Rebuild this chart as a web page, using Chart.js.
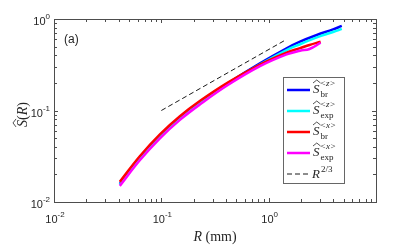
<!DOCTYPE html>
<html>
<head>
<meta charset="utf-8">
<script src="https://cdn.jsdelivr.net/npm/chart.js@4.4.1/dist/chart.umd.min.js"></script>
<style>
  html, body { margin: 0; padding: 0; background: #fff; }
  #wrap { width: 416px; height: 246px; }
</style>
</head>
<body>
<div id="wrap"><canvas id="chart" width="416" height="246"></canvas></div>
<script>
'use strict';

// ── Data ─────────────────────────────────────────────────
// separation R (mm) for the <z> pair
const rZ     = [0.041, 0.063, 0.097, 0.149, 0.23, 0.42, 0.83, 1.47, 1.96, 2.81, 3.98, 4.8];
const sBrZ   = [0.0157, 0.0300, 0.0521, 0.0829, 0.1236, 0.200, 0.328, 0.479, 0.565, 0.668, 0.770, 0.840];
const sExpZ  = [0.0154, 0.0294, 0.0512, 0.0815, 0.1215, 0.197, 0.318, 0.458, 0.530, 0.630, 0.720, 0.780];
// separation R (mm) for the <x> pair
const rX     = [0.041, 0.063, 0.097, 0.149, 0.23, 0.42, 0.83, 1.47, 1.96, 2.4, 3.05];
const sBrX   = [0.0166, 0.0316, 0.0548, 0.0865, 0.1275, 0.203, 0.318, 0.430, 0.480, 0.520, 0.565];
const sExpX  = [0.0150, 0.0286, 0.0497, 0.0790, 0.1170, 0.191, 0.305, 0.410, 0.450, 0.470, 0.550];
// R^(2/3) reference line
const rRef   = [0.1, 1.4];
const sRef   = [0.1, 0.58];

// axis limits and labelled decades
const xLim = [0.01, 10];
const yLim = [0.01, 1];
const xTickExp = ['-2', '-1', '0'];
const yTickExp = ['-2', '-1', '0'];

const pts = (xs, ys) => xs.map((x, i) => ({ x, y: ys[i] }));

// ── Helpers for the MATLAB-like text ─────────────────────
const SERIF = '"Liberation Serif", "DejaVu Serif", serif';
const SANS  = '"Liberation Sans", Arial, sans-serif';
const INK   = '#262626';

function drawPow(ctx, exp, x, yBase, align) {
    ctx.font = '11px ' + SANS;
    const w10 = ctx.measureText('10').width;
    ctx.font = '8px ' + SANS;
    const wE = ctx.measureText(exp).width;
    const total = w10 + wE;
    let x0 = align === 'center' ? x - total / 2 : x - total;
    ctx.textAlign = 'left';
    ctx.textBaseline = 'alphabetic';
    ctx.font = '11px ' + SANS;
    ctx.fillText('10', x0, yBase);
    ctx.font = '8px ' + SANS;
    ctx.fillText(exp, x0 + w10, yBase - 6);
}

function drawHat(ctx, x0, x1, yb) {
    ctx.beginPath();
    ctx.moveTo(x0, yb);
    ctx.lineTo((x0 + x1) / 2, yb - 3);
    ctx.lineTo(x1, yb);
    ctx.lineWidth = 0.8;
    ctx.stroke();
}

// Ŝ with subscript / superscript
function drawSHat(ctx, x, yb, sub, supVar) {
    ctx.textAlign = 'left';
    ctx.textBaseline = 'alphabetic';
    ctx.font = 'italic 13px ' + SERIF;
    const wS = ctx.measureText('S').width;
    ctx.fillText('S', x, yb);
    drawHat(ctx, x, x + wS + 1, yb - 10);
    const xs = x + wS + 1;
    ctx.font = '9px ' + SERIF;
    ctx.fillText(sub, xs, yb + 4);
    // superscript <v>
    let cx = xs;
    ctx.font = '9px ' + SERIF;
    ctx.fillText('<', cx, yb - 7);
    cx += ctx.measureText('<').width + 0.5;
    ctx.font = 'italic 9px ' + SERIF;
    ctx.fillText(supVar, cx, yb - 7);
    cx += ctx.measureText(supVar).width + 0.5;
    ctx.font = '9px ' + SERIF;
    ctx.fillText('>', cx, yb - 7);
}

// ── Axes frame, ticks, labels, legend ────────────────────
const matlabAxes = {
    id: 'matlabAxes',
    afterDatasetsDraw(chart) {
        const { ctx, chartArea: a, scales: { x, y } } = chart;
        ctx.save();

        // box
        ctx.strokeStyle = '#4d4d4d';
        ctx.lineWidth = 1;
        ctx.strokeRect(a.left + 0.5, a.top + 0.5, a.right - a.left, a.bottom - a.top);

        // inward ticks on all four sides
        ctx.beginPath();
        for (let d = -2; d <= 1; d++) {
            for (let m = 1; m <= 9; m++) {
                const v = m * Math.pow(10, d);
                if (v < xLim[0] || v > xLim[1]) continue;
                const len = m === 1 ? 4 : 3;
                const px = Math.round(x.getPixelForValue(v)) + 0.5;
                ctx.moveTo(px, a.bottom); ctx.lineTo(px, a.bottom - len);
                ctx.moveTo(px, a.top);    ctx.lineTo(px, a.top + len);
            }
        }
        for (let d = -2; d <= 0; d++) {
            for (let m = 1; m <= 9; m++) {
                const v = m * Math.pow(10, d);
                if (v < yLim[0] || v > yLim[1]) continue;
                const len = m === 1 ? 4 : 3;
                const py = Math.round(y.getPixelForValue(v)) + 0.5;
                ctx.moveTo(a.left, py);  ctx.lineTo(a.left + len, py);
                ctx.moveTo(a.right, py); ctx.lineTo(a.right - len, py);
            }
        }
        ctx.stroke();

        // tick labels
        ctx.fillStyle = INK;
        xTickExp.forEach(e => {
            const px = x.getPixelForValue(Math.pow(10, Number(e)));
            drawPow(ctx, e, px + 1, a.bottom + 21, 'center');
        });
        yTickExp.forEach(e => {
            const py = y.getPixelForValue(Math.pow(10, Number(e)));
            drawPow(ctx, e, a.left - 4, py + 6, 'right');
        });

        // panel tag
        ctx.font = '12px ' + SANS;
        ctx.textAlign = 'left';
        ctx.fillText('(a)', 64, 43);

        // x title: R (mm)
        ctx.font = 'italic 14px ' + SERIF;
        const wR = ctx.measureText('R').width;
        ctx.font = '14px ' + SERIF;
        const wMm = ctx.measureText(' (mm)').width;
        let tx = (a.left + a.right) / 2 - (wR + wMm) / 2;
        ctx.font = 'italic 14px ' + SERIF;
        ctx.fillText('R', tx, 241);
        ctx.font = '14px ' + SERIF;
        ctx.fillText(' (mm)', tx + wR, 241);

        // y title: Ŝ(R), rotated
        ctx.save();
        ctx.translate(27, (a.top + a.bottom) / 2 + 4);
        ctx.rotate(-Math.PI / 2);
        ctx.strokeStyle = INK;
        const parts = [['S', true], ['(', false], ['R', true], [')', false]];
        let tot = 0;
        parts.forEach(p => {
            ctx.font = (p[1] ? 'italic ' : '') + '14px ' + SERIF;
            tot += ctx.measureText(p[0]).width;
        });
        let cx = -tot / 2;
        parts.forEach((p, i) => {
            ctx.font = (p[1] ? 'italic ' : '') + '14px ' + SERIF;
            const w = ctx.measureText(p[0]).width;
            ctx.fillText(p[0], cx, 0);
            if (i === 0) drawHat(ctx, cx, cx + w + 1, -11);
            cx += w;
        });
        ctx.restore();

        // legend
        const lg = { l: 283.5, t: 77.5, r: 344.5, b: 183.5 };
        ctx.fillStyle = '#fff';
        ctx.fillRect(lg.l, lg.t, lg.r - lg.l, lg.b - lg.t);
        ctx.strokeStyle = '#666';
        ctx.lineWidth = 1;
        ctx.strokeRect(lg.l, lg.t, lg.r - lg.l, lg.b - lg.t);

        chart.data.datasets.forEach((ds, k) => {
            const ly = 90 + k * 21;
            ctx.beginPath();
            ctx.setLineDash(ds.borderDash || []);
            ctx.strokeStyle = ds.borderColor;
            ctx.lineWidth = ds.borderWidth;
            ctx.moveTo(287, ly);
            ctx.lineTo(310, ly);
            ctx.stroke();
            ctx.setLineDash([]);
            ctx.fillStyle = INK;
            ctx.strokeStyle = INK;
            if (ds.sub) {
                drawSHat(ctx, 313, ly + 3, ds.sub, ds.sup);
            } else {
                ctx.font = 'italic 13px ' + SERIF;
                ctx.textAlign = 'left';
                ctx.fillText('R', 312, ly + 4);
                const w = ctx.measureText('R').width;
                ctx.font = '9px ' + SERIF;
                ctx.fillText('2/3', 312 + w + 1, ly - 2);
            }
        });

        ctx.restore();
    }
};

// ── Chart ────────────────────────────────────────────────
const lineDs = (label, data, color, order, extra) => Object.assign({
    label,
    data,
    borderColor: color,
    borderWidth: 2.5,
    pointRadius: 0,
    fill: false,
    tension: 0.4,
    borderCapStyle: 'butt',
    borderJoinStyle: 'round',
    order,
}, extra || {});

new Chart(document.getElementById('chart').getContext('2d'), {
    type: 'line',
    data: {
        datasets: [
            lineDs('S_br <z>',  pts(rZ, sBrZ),  '#0000ff', 4, { sub: 'br',  sup: 'z' }),
            lineDs('S_exp <z>', pts(rZ, sExpZ), '#00ffff', 3, { sub: 'exp', sup: 'z' }),
            lineDs('S_br <x>',  pts(rX, sBrX),  '#ff0000', 2, { sub: 'br',  sup: 'x' }),
            lineDs('S_exp <x>', pts(rX, sExpX), '#ff00ff', 1, { sub: 'exp', sup: 'x' }),
            lineDs('R^2/3', pts(rRef, sRef), '#1a1a1a', 0, { borderWidth: 1, borderDash: [5, 3], tension: 0 }),
        ]
    },
    options: {
        responsive: false,
        animation: false,
        devicePixelRatio: 1,
        layout: { padding: { left: 54, top: 19, right: 40, bottom: 44 } },
        plugins: { legend: { display: false }, tooltip: { enabled: false } },
        scales: {
            x: { type: 'logarithmic', min: xLim[0], max: xLim[1], display: false },
            y: { type: 'logarithmic', min: yLim[0], max: yLim[1], display: false }
        }
    },
    plugins: [matlabAxes]
});
</script>
</body>
</html>
